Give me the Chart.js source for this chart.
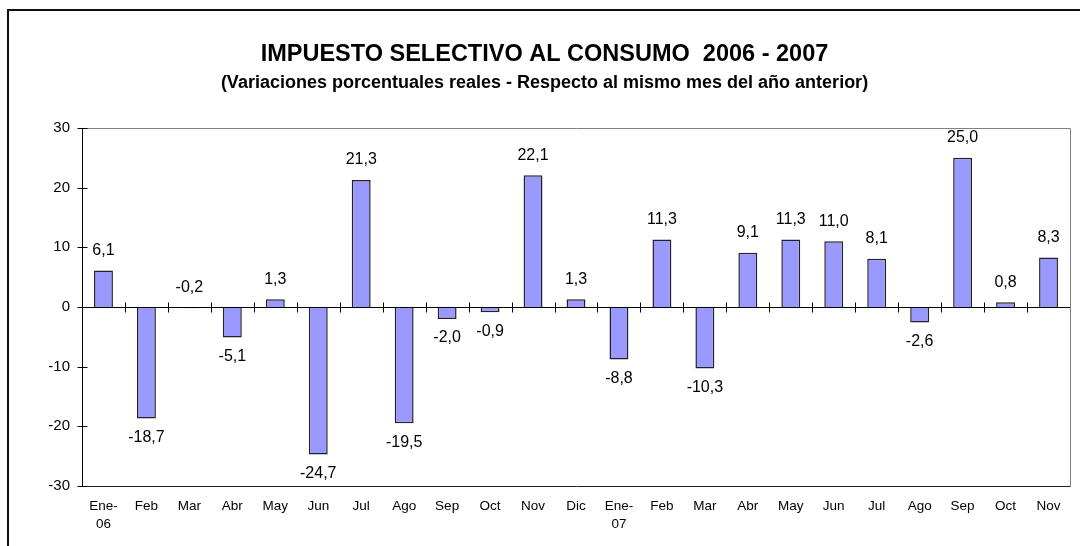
<!DOCTYPE html>
<html>
<head>
<meta charset="utf-8">
<script src="https://cdn.jsdelivr.net/npm/chart.js@4"></script>
<style>
  html, body { margin: 0; padding: 0; background: #fff; overflow: hidden; }
  #wrap { position: relative; width: 1080px; height: 546px; overflow: hidden; }
  #frame { position: absolute; left: 7px; top: 9px; width: 1100px; height: 600px; border: 2px solid #111; }
  #chart { position: absolute; left: 0; top: 0; }
</style>
</head>
<body>
<div id="wrap">
  <div id="frame"></div>
  <canvas id="chart" width="1080" height="546"></canvas>
</div>
<script>
// months, Jan 2006 - Nov 2007
const months = [
  ['Ene-', '06'], 'Feb', 'Mar', 'Abr', 'May', 'Jun', 'Jul', 'Ago', 'Sep', 'Oct', 'Nov', 'Dic',
  ['Ene-', '07'], 'Feb', 'Mar', 'Abr', 'May', 'Jun', 'Jul', 'Ago', 'Sep', 'Oct', 'Nov'
];
// real % change vs same month of previous year
const variation = [
  6.1, -18.7, -0.2, -5.1, 1.3, -24.7, 21.3, -19.5, -2.0, -0.9, 22.1, 1.3,
  -8.8, 11.3, -10.3, 9.1, 11.3, 11.0, 8.1, -2.6, 25.0, 0.8, 8.3
];
const yTicks = [-30, -20, -10, 0, 10, 20, 30];

const FONT = "'Liberation Sans', Arial, sans-serif";

function fmt(v) {
  return v.toFixed(1).replace('.', ',');
}

// plot border, zero line, cross tick marks and value labels
const excelLook = {
  id: 'excelLook',
  afterDatasetsDraw(chart) {
    const ctx = chart.ctx;
    const area = chart.chartArea;
    const x = chart.scales.x;
    const y = chart.scales.y;
    const y0 = Math.round(y.getPixelForValue(0)) + 0.5;
    ctx.save();
    ctx.lineWidth = 1;

    // plot area border (top / right grey, bottom dark)
    ctx.strokeStyle = '#808080';
    ctx.beginPath();
    ctx.moveTo(Math.round(area.left) + 0.5, Math.round(area.top) + 0.5);
    ctx.lineTo(Math.round(area.right) + 0.5, Math.round(area.top) + 0.5);
    ctx.lineTo(Math.round(area.right) + 0.5, Math.round(area.bottom) + 0.5);
    ctx.stroke();
    ctx.strokeStyle = '#222';
    ctx.beginPath();
    ctx.moveTo(Math.round(area.left) + 0.5, Math.round(area.bottom) + 0.5);
    ctx.lineTo(Math.round(area.right) + 0.5, Math.round(area.bottom) + 0.5);
    ctx.stroke();

    // y axis line + ticks
    ctx.strokeStyle = '#000';
    const ax = Math.round(area.left) + 0.5;
    ctx.beginPath();
    ctx.moveTo(ax, Math.round(area.top));
    ctx.lineTo(ax, Math.round(area.bottom) + 1);
    yTicks.forEach(v => {
      const py = Math.round(y.getPixelForValue(v)) + 0.5;
      ctx.moveTo(ax - 5, py);
      ctx.lineTo(ax + 5, py);
    });
    ctx.stroke();

    // zero line + category ticks
    ctx.beginPath();
    ctx.moveTo(area.left, y0);
    ctx.lineTo(area.right, y0);
    for (let i = 0; i < months.length - 1; i++) {
      const px = Math.round((x.getPixelForValue(i) + x.getPixelForValue(i + 1)) / 2) + 0.5;
      ctx.moveTo(px, y0 - 5);
      ctx.lineTo(px, y0 + 5);
    }
    ctx.stroke();

    // value labels
    ctx.fillStyle = '#000';
    ctx.font = '16px ' + FONT;
    ctx.textAlign = 'center';
    ctx.textBaseline = 'middle';
    chart.getDatasetMeta(0).data.forEach((bar, i) => {
      const v = variation[i];
      const ly = v > -0.5 ? Math.min(bar.y, y0) - 20 : bar.y + 19;
      ctx.fillText(fmt(v), bar.x, ly);
    });
    ctx.restore();
  }
};

new Chart(document.getElementById('chart'), {
  type: 'bar',
  data: {
    labels: months,
    datasets: [{
      data: variation,
      backgroundColor: '#9999FF',
      borderColor: '#222',
      borderWidth: 1.5,
      barPercentage: 0.44,
      categoryPercentage: 1.0
    }]
  },
  options: {
    responsive: false,
    animation: false,
    devicePixelRatio: 1,
    layout: { padding: { left: 19, right: 10, top: 0, bottom: 0 } },
    plugins: {
      legend: { display: false },
      tooltip: { enabled: false },
      title: {
        display: true,
        text: 'IMPUESTO SELECTIVO AL CONSUMO  2006 - 2007',
        color: '#000',
        font: { family: FONT, size: 23.5, weight: 'bold', lineHeight: 1.2 },
        padding: { top: 40, bottom: 0 }
      },
      subtitle: {
        display: true,
        text: '(Variaciones porcentuales reales - Respecto al mismo mes del año anterior)',
        color: '#000',
        font: { family: FONT, size: 18, weight: 'bold', lineHeight: 1.2 },
        padding: { top: 4, bottom: 34.2 }
      }
    },
    scales: {
      x: {
        grid: { display: false, drawTicks: false },
        border: { display: false },
        ticks: {
          color: '#000',
          font: { family: FONT, size: 13.5, lineHeight: 1.3 },
          padding: 12,
          maxRotation: 0,
          autoSkip: false
        },
        afterFit(scale) { scale.height = 60; }
      },
      y: {
        min: -30,
        max: 30,
        grid: { display: false, drawTicks: false },
        border: { display: false },
        afterBuildTicks(scale) { scale.ticks = yTicks.map(v => ({ value: v })); },
        ticks: {
          color: '#000',
          font: { family: FONT, size: 15 },
          padding: 12
        },
        afterFit(scale) { scale.width = 63; }
      }
    }
  },
  plugins: [excelLook]
});
</script>
</body>
</html>
